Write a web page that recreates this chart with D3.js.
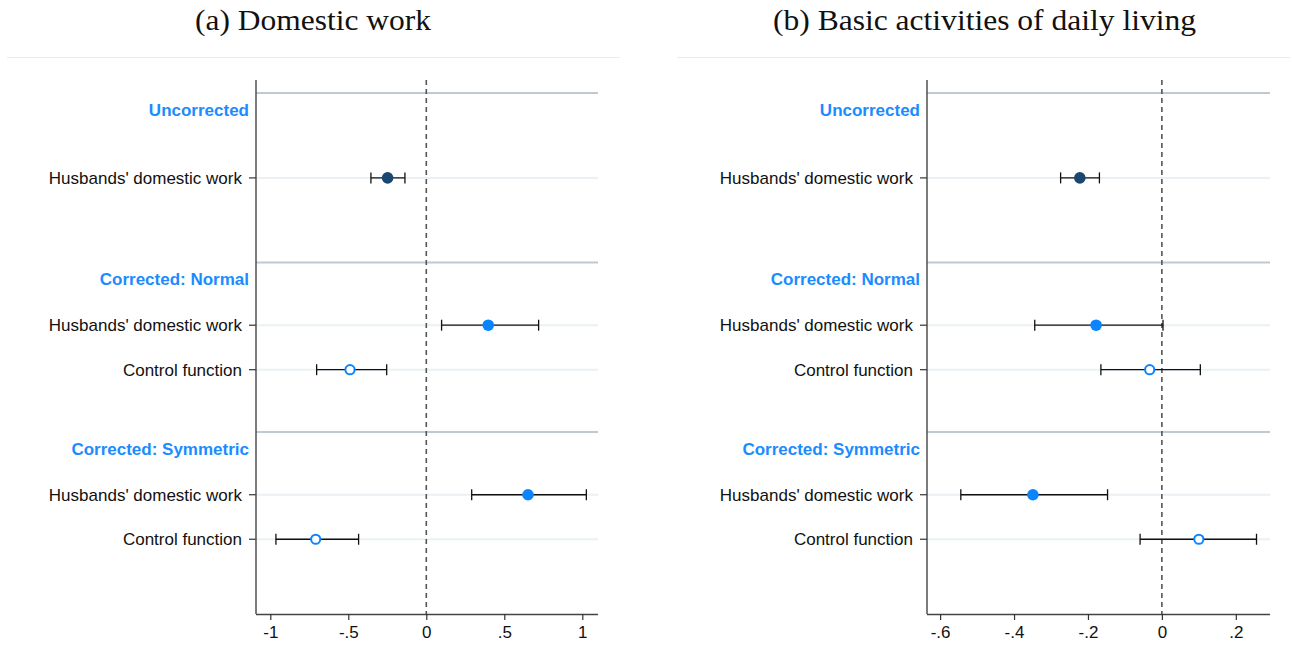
<!DOCTYPE html>
<html><head><meta charset="utf-8">
<script src="https://cdn.jsdelivr.net/npm/d3@7"></script>
<style>
html,body{margin:0;padding:0;background:#fff;}
svg{display:block;}
</style></head>
<body>
<svg id="chart" width="1292" height="645"></svg>
<script>
// ---------- data ----------
const panelTitles = ["(a) Domestic work", "(b) Basic activities of daily living"];
const groupHeaders = ["Uncorrected", "Corrected: Normal", "Corrected: Symmetric"];
const rowLabels = ["Husbands' domestic work", "Control function"];
// rows: [group, label index, kind]  kind: 0 = uncorrected (navy), 1 = filled blue, 2 = hollow blue
const rowGroup = [0, 1, 1, 2, 2];
const rowLabelIdx = [0, 0, 1, 0, 1];
const rowKind = [0, 1, 2, 1, 2];

// panel (a) domestic work
const estA = [-0.248, 0.397, -0.489, 0.652, -0.709];
const loA  = [-0.355, 0.098, -0.703, 0.291, -0.964];
const hiA  = [-0.137, 0.720, -0.254, 1.026, -0.434];
// panel (b) basic ADL
const estB = [-0.222, -0.178, -0.033, -0.349, 0.100];
const loB  = [-0.274, -0.344, -0.165, -0.544, -0.059];
const hiB  = [-0.169, 0.003, 0.104, -0.147, 0.256];

const ticksA = [-1, -0.5, 0, 0.5, 1];
const tickLabelsA = ["-1", "-.5", "0", ".5", "1"];
const ticksB = [-0.6, -0.4, -0.2, 0, 0.2];
const tickLabelsB = ["-.6", "-.4", "-.2", "0", ".2"];
const domainA = [-1.0917, 1.1007];
const domainB = [-0.6355, 0.2925];

// ---------- layout ----------
const svg = d3.select("#chart");
const colNavy = "#1a476f", colBlue = "#0a84ff", colHeader = "#1a8cff";
const plotTop = 80, plotBottom = 614;
const y = d3.scaleLinear().domain([0, 12]).range([plotTop, plotBottom]);
const groupStart = g => 0.29 + 3.81 * g;
function rowPos(i) {
  const g = rowGroup[i];
  if (g === 0) return groupStart(g) + 1.91;
  return groupStart(g) + 1.41 + rowLabelIdx[i];
}

const panels = [
  {title: panelTitles[0], titleX: 313, titleW: 236, sepX: [7, 620], left: 256, right: 598, domain: domainA,
   est: estA, lo: loA, hi: hiA, ticks: ticksA, tickLabels: tickLabelsA},
  {title: panelTitles[1], titleX: 984.5, titleW: 423, sepX: [677, 1290], left: 927, right: 1270, domain: domainB,
   est: estB, lo: loB, hi: hiB, ticks: ticksB, tickLabels: tickLabelsB}
];
const sans = "'Liberation Sans', Arial, sans-serif";

panels.forEach(p => {
  const g = svg.append("g");
  // title
  g.append("text").attr("x", p.titleX).attr("y", 30)
    .attr("text-anchor", "middle")
    .attr("font-family", "'Liberation Serif', 'DejaVu Serif', serif")
    .attr("font-size", 29).attr("fill", "#111")
    .attr("textLength", p.titleW).attr("lengthAdjust", "spacingAndGlyphs")
    .text(p.title);
  g.append("line").attr("x1", p.sepX[0]).attr("x2", p.sepX[1]).attr("y1", 57.5).attr("y2", 57.5)
    .attr("stroke", "#e6ecef").attr("stroke-width", 1);

  const x = d3.scaleLinear().domain(p.domain).range([p.left, p.right]);
  const rows = d3.range(rowGroup.length);

  // row grid lines
  g.selectAll(".grid").data(rows).join("line")
    .attr("x1", p.left).attr("x2", p.right)
    .attr("y1", i => y(rowPos(i))).attr("y2", i => y(rowPos(i)))
    .attr("stroke", "#eaf0f4").attr("stroke-width", 2);

  // group separators
  g.selectAll(".sep").data(groupHeaders).join("line")
    .attr("x1", p.left).attr("x2", p.right)
    .attr("y1", (d, k) => y(groupStart(k))).attr("y2", (d, k) => y(groupStart(k)))
    .attr("stroke", "#bfc9d1").attr("stroke-width", 2);

  // headers
  g.selectAll(".hdr").data(groupHeaders).join("text")
    .attr("x", p.left - 7).attr("y", (d, k) => y(groupStart(k) + 0.38))
    .attr("dy", "0.35em").attr("text-anchor", "end")
    .attr("font-family", sans)
    .attr("font-weight", "bold").attr("font-size", 17).attr("fill", colHeader).text(d => d);

  // row labels + ticks
  g.selectAll(".lbl").data(rows).join("text")
    .attr("x", p.left - 14).attr("y", i => y(rowPos(i)))
    .attr("dy", "0.35em").attr("text-anchor", "end")
    .attr("font-family", sans)
    .attr("font-size", 17).attr("fill", "#111").text(i => rowLabels[rowLabelIdx[i]]);
  g.selectAll(".ytick").data(rows).join("line")
    .attr("x1", p.left - 7).attr("x2", p.left)
    .attr("y1", i => y(rowPos(i))).attr("y2", i => y(rowPos(i)))
    .attr("stroke", "#333").attr("stroke-width", 1.2);

  // zero line
  g.append("line").attr("x1", x(0)).attr("x2", x(0)).attr("y1", plotTop).attr("y2", plotBottom)
    .attr("stroke", "#555").attr("stroke-width", 1.6).attr("stroke-dasharray", "5,4");

  // axes
  g.append("line").attr("x1", p.left).attr("x2", p.left).attr("y1", plotTop).attr("y2", plotBottom)
    .attr("stroke", "#444").attr("stroke-width", 1.4);
  const xAxis = d3.axisBottom(x).tickValues(p.ticks).tickSize(6).tickPadding(6)
    .tickFormat((d, k) => p.tickLabels[k]);
  const ax = g.append("g").attr("transform", `translate(0,${plotBottom})`).call(xAxis);
  ax.select(".domain").attr("d", `M${p.left},0.5H${p.right}`).attr("stroke", "#444").attr("stroke-width", 1.4);
  ax.selectAll(".tick line").attr("stroke", "#333").attr("stroke-width", 1.2);
  ax.selectAll(".tick text").attr("font-family", sans)
    .attr("font-size", 17).attr("fill", "#111");

  // CIs
  const ci = g.selectAll(".ci").data(rows).join("g");
  ci.append("line").attr("x1", i => x(p.lo[i])).attr("x2", i => x(p.hi[i]))
    .attr("y1", i => y(rowPos(i))).attr("y2", i => y(rowPos(i)))
    .attr("stroke", "#111").attr("stroke-width", 1.3);
  ci.append("line").attr("x1", i => x(p.lo[i])).attr("x2", i => x(p.lo[i]))
    .attr("y1", i => y(rowPos(i)) - 5.5).attr("y2", i => y(rowPos(i)) + 5.5)
    .attr("stroke", "#111").attr("stroke-width", 1.3);
  ci.append("line").attr("x1", i => x(p.hi[i])).attr("x2", i => x(p.hi[i]))
    .attr("y1", i => y(rowPos(i)) - 5.5).attr("y2", i => y(rowPos(i)) + 5.5)
    .attr("stroke", "#111").attr("stroke-width", 1.3);

  // points
  g.selectAll(".pt").data(rows).join("circle")
    .attr("cx", i => x(p.est[i])).attr("cy", i => y(rowPos(i)))
    .attr("r", i => rowKind[i] === 2 ? 4.6 : 5.8)
    .attr("fill", i => rowKind[i] === 0 ? colNavy : rowKind[i] === 1 ? colBlue : "#fff")
    .attr("stroke", i => rowKind[i] === 2 ? colBlue : "none")
    .attr("stroke-width", 2);
});
</script>
</body></html>
